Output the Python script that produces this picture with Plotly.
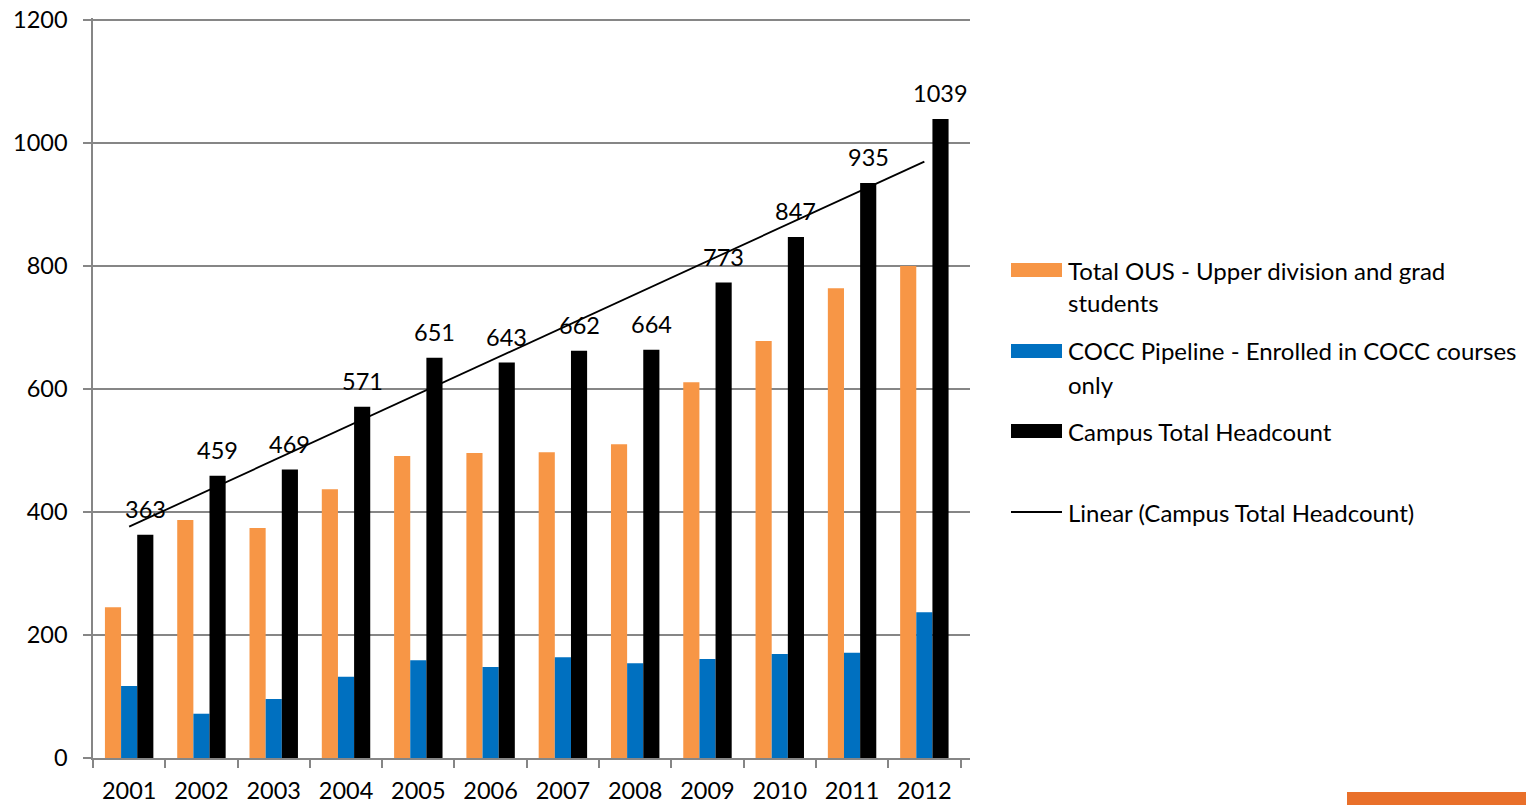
import numpy as np
import plotly.graph_objects as go

years = ["2001", "2002", "2003", "2004", "2005", "2006", "2007", "2008", "2009", "2010", "2011", "2012"]
total_ous = [245, 387, 374, 437, 491, 496, 497, 510, 611, 678, 764, 800]
cocc_pipeline = [117, 72, 96, 132, 159, 148, 164, 154, 161, 169, 171, 237]
campus_total = [363, 459, 469, 571, 651, 643, 662, 664, 773, 847, 935, 1039]
y_ticks = [0, 200, 400, 600, 800, 1000, 1200]

series_names = ["Total OUS - Upper division and grad students",
                "COCC Pipeline - Enrolled in COCC courses only",
                "Campus Total Headcount",
                "Linear (Campus Total Headcount)"]
legend_lines = [["Total OUS - Upper division and grad", "students"],
                ["COCC Pipeline - Enrolled in COCC courses", "only"],
                ["Campus Total Headcount"],
                ["Linear (Campus Total Headcount)"]]

ORANGE = "#F79646"
BLUE = "#0070C0"
BLACK = "#000000"
GRID = "#868686"
FONT = "Lato"
FS_NUM = 23.5
FS_LEG = 24

# body margin is removed in the page (post_script), so figure px == page px
OFF = 0
W, H = 1526, 805
L, R, T, B = 93 - OFF, 970 - OFF, 18 - OFF, 758 - OFF
pw, ph = R - L, B - T
Y_TOP = 1200 * ph / (ph - 2)  # keep the 1200 line 2px inside the plot area


def px_x(px):
    return (px - OFF - L) / pw


def px_y(py):
    return (B - (py - OFF)) / ph


# linear trend of campus total (least squares fit)
idx = np.arange(len(years))
slope, intercept = np.polyfit(idx, campus_total, 1)
trend = (slope * idx + intercept).tolist()

fig = go.Figure()
fig.add_trace(go.Bar(x=years, y=total_ous, name=series_names[0], marker=dict(color=ORANGE, line_width=0)))
fig.add_trace(go.Bar(x=years, y=cocc_pipeline, name=series_names[1], marker=dict(color=BLUE, line_width=0)))
fig.add_trace(go.Bar(x=years, y=campus_total, name=series_names[2], marker=dict(color=BLACK, line_width=0)))
fig.add_trace(go.Scatter(x=years, y=trend, mode="lines", name=series_names[3],
                         line=dict(color=BLACK, width=1.8)))

bargap = 0.33
bar_w = (1 - bargap) / 3

annotations = []
for i, v in enumerate(campus_total):
    annotations.append(dict(x=i + bar_w, y=v, xref="x", yref="y", text=str(v), showarrow=False,
                            yanchor="bottom", xanchor="center", yshift=10,
                            font=dict(family=FONT, size=FS_NUM, color="#000")))

# custom legend
rows_y = [270, 351, 431, 512]
line_gap = 33
shapes = []
swatch_colors = [ORANGE, BLUE, BLACK]
for k, lines in enumerate(legend_lines):
    cy = rows_y[k]
    if k < 3:
        shapes.append(dict(type="rect", xref="paper", yref="paper",
                           x0=px_x(1011), x1=px_x(1062), y0=px_y(cy + 7), y1=px_y(cy - 7),
                           fillcolor=swatch_colors[k], line_width=0))
    else:
        shapes.append(dict(type="line", xref="paper", yref="paper",
                           x0=px_x(1011), x1=px_x(1062), y0=px_y(cy), y1=px_y(cy),
                           line=dict(color=BLACK, width=1.8)))
    for j, t in enumerate(lines):
        annotations.append(dict(x=px_x(1066), y=px_y(cy + j * line_gap), xref="paper", yref="paper",
                                text=t, showarrow=False, xanchor="left", yanchor="middle",
                                font=dict(family=FONT, size=FS_LEG, color="#000")))

# decorative orange bar at bottom right
shapes.append(dict(type="rect", xref="paper", yref="paper",
                   x0=px_x(1347), x1=px_x(1526), y0=px_y(805), y1=px_y(792),
                   fillcolor="#E9702A", line_width=0))

fig.update_layout(
    width=W, height=H,
    margin=dict(l=L, r=W - R, t=T, b=H - B, pad=0),
    paper_bgcolor="white", plot_bgcolor="white",
    barmode="group", bargap=bargap, bargroupgap=0,
    showlegend=False,
    font=dict(family=FONT, size=FS_NUM, color="#000"),
    annotations=annotations,
    shapes=shapes,
)
fig.update_xaxes(type="category", showline=True, linecolor=GRID, linewidth=1.5, automargin=False,
                 ticks="outside", tickson="boundaries", ticklen=8, tickcolor=GRID, tickwidth=1.5,
                 showgrid=False, ticklabelstandoff=11, ticklabeloverflow="allow",
                 tickfont=dict(family=FONT, size=FS_NUM, color="#000"))
fig.update_yaxes(range=[0, Y_TOP], tickmode="array", tickvals=y_ticks,
                 showline=True, linecolor=GRID, linewidth=1.5, automargin=False,
                 ticks="outside", ticklen=8, tickcolor=GRID, tickwidth=1.5,
                 showgrid=True, gridcolor=GRID, gridwidth=1.5, zeroline=False,
                 ticklabelstandoff=11, ticklabeloverflow="allow",
                 tickfont=dict(family=FONT, size=FS_NUM, color="#000"))

fig.write_html("out.html",
               config={"displayModeBar": False},
               post_script="document.body.style.margin='0';document.body.style.overflow='hidden';")
